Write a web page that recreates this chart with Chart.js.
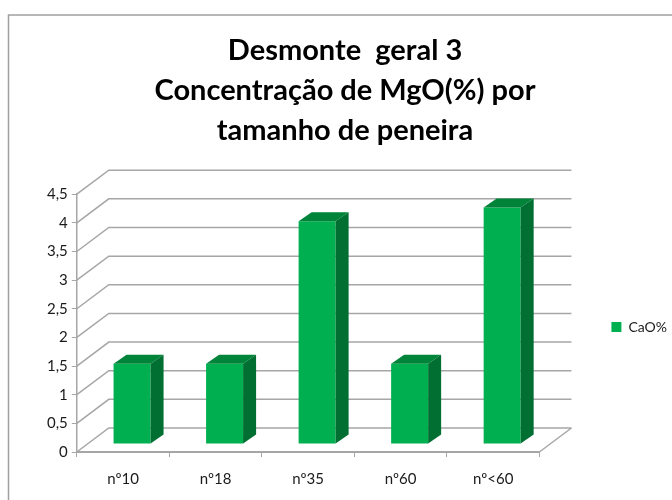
<!DOCTYPE html>
<html><head><meta charset="utf-8">
<style>html,body{margin:0;padding:0;background:#fff}#w{position:relative;width:672px;height:500px}</style>
<script src="https://cdn.jsdelivr.net/npm/chart.js@4"></script></head>
<body><div id="w"><canvas id="c" width="672" height="500"></canvas></div>
<script>
const categories = ['nº10','nº18','nº35','nº60','nº<60'];
const seriesName = 'CaO%';
const seriesValues = [1.4,1.4,3.89,1.4,4.13];
const titleLines = ['Desmonte  geral 3','Concentração de MgO(%) por','tamanho de peneira'];
const frontGreen='#00B050', topGreen='#008439', sideGreen='#006F31', gridGray='#A6A6A6';
const wallDx=32, wallDy=-24, barDx=9, barDy=-8, sideDx=13, sideDy=-9;
const titleCenterX=345, legendShiftX=66, legendShiftY=4;

const frame={id:'frame',
 afterLayout(ch){const t=ch.titleBlock,g=ch.legend;const d=titleCenterX-(t.left+t.right)/2;t.left+=d;t.right+=d;
   g.left+=legendShiftX;g.right+=legendShiftX;g.top+=legendShiftY;g.bottom+=legendShiftY;
   (g.legendHitBoxes||[]).forEach(b=>{b.left+=legendShiftX;b.top+=legendShiftY;});},
 beforeDraw(ch){const c=ch.ctx;c.save();c.fillStyle='#fff';c.fillRect(0,0,672,500);
  c.strokeStyle='#A0A0A0';c.lineWidth=1.5;c.beginPath();c.moveTo(8.5,500);c.lineTo(8.5,15);c.lineTo(672,15);c.stroke();c.restore();}};
const walls={id:'walls',beforeDatasetsDraw(ch){const c=ch.ctx,y=ch.scales.y,a=ch.chartArea;c.save();c.strokeStyle=gridGray;c.lineWidth=1.5;
  y.ticks.forEach(t=>{const p=y.getPixelForValue(t.value);c.beginPath();c.moveTo(a.left,p);c.lineTo(a.left+wallDx,p+wallDy);c.lineTo(a.right+wallDx,p+wallDy);c.stroke();});
  const b=y.getPixelForValue(0);c.beginPath();c.moveTo(a.right,b);c.lineTo(a.right+wallDx,b+wallDy);c.stroke();c.restore();},
  beforeDatasetDraw(ch){ch.ctx.save();ch.ctx.translate(barDx,barDy);},
  afterDatasetDraw(ch,args){const c=ch.ctx;ch.getDatasetMeta(args.index).data.forEach(el=>{const p=el.getProps(['x','y','base','width'],true);
    const l=p.x-p.width/2,r=p.x+p.width/2;
    c.fillStyle=topGreen;c.beginPath();c.moveTo(l,p.y);c.lineTo(l+sideDx,p.y+sideDy);c.lineTo(r+sideDx,p.y+sideDy);c.lineTo(r,p.y);c.closePath();c.fill();
    c.fillStyle=sideGreen;c.beginPath();c.moveTo(r,p.y);c.lineTo(r+sideDx,p.y+sideDy);c.lineTo(r+sideDx,p.base+sideDy);c.lineTo(r,p.base);c.closePath();c.fill();});
    c.restore();}};
new Chart(document.getElementById('c'),{type:'bar',
 data:{labels:categories,datasets:[{label:seriesName,data:seriesValues,backgroundColor:frontGreen,barPercentage:0.4,categoryPercentage:1}]},
 plugins:[frame,walls],
 options:{responsive:false,animation:false,
  layout:{padding:{left:43,right:61,top:31,bottom:-1}},
  plugins:{tooltip:{enabled:false},
   title:{display:true,text:titleLines,color:'#000',align:'center',font:{family:'Lato',size:29,weight:'bold',lineHeight:1.37},padding:{top:0,bottom:44}},
   legend:{position:'right',fullSize:false,labels:{boxWidth:10,boxHeight:10,color:'#1a1a1a',padding:6,font:{family:'Lato',size:14}}}},
  scales:{
   x:{grid:{offset:true,drawOnChartArea:false,color:gridGray,tickLength:5,tickColor:gridGray},border:{color:gridGray,width:2},ticks:{color:'#1a1a1a',padding:13,font:{family:'Lato',size:15},maxRotation:0}},
   y:{min:0,max:4.5,grid:{drawOnChartArea:false,color:gridGray,tickLength:5},border:{color:gridGray,width:1.5},
      ticks:{stepSize:0.5,color:'#1a1a1a',padding:4,font:{family:'Lato',size:15},callback:v=>String(v).replace('.',',')}}}}});
</script></body></html>
